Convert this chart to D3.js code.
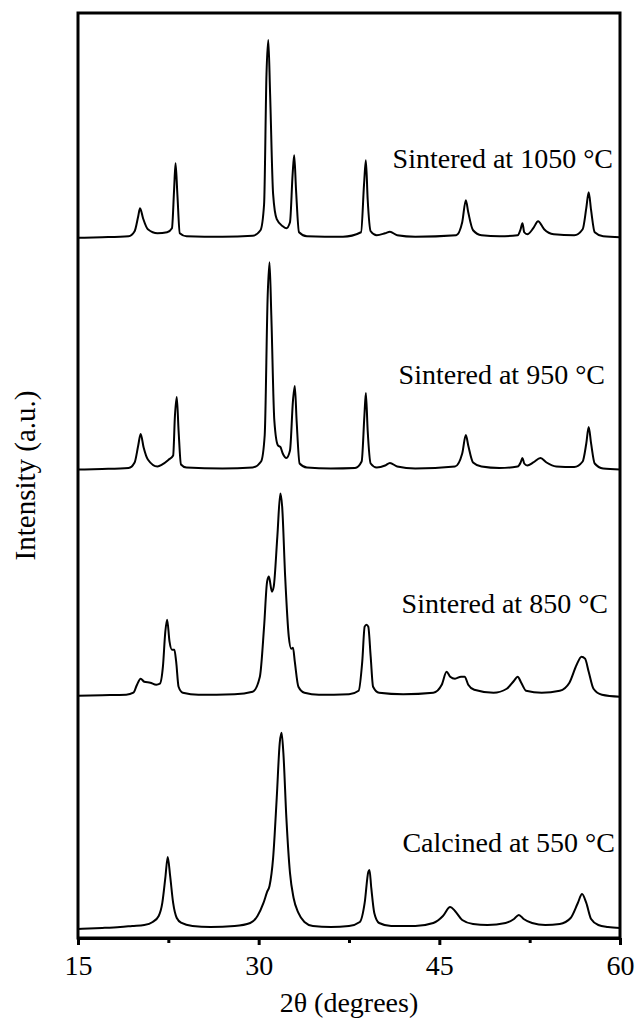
<!DOCTYPE html>
<html>
<head>
<meta charset="utf-8">
<script src="https://cdn.jsdelivr.net/npm/d3@7"></script>
<style>
	body { margin: 0; background: #fff; }
</style>
</head>
<body>
<div id="chart"></div>
<script>
// XRD patterns: [2theta (deg), intensity (a.u., incl. background)]
const samples = ['Sintered at 1050 °C', 'Sintered at 950 °C', 'Sintered at 850 °C', 'Calcined at 550 °C'];

const pattern1050 = [
	[15,6.5],[17,7],[19.2,8],[19.7,13],[20.0,28],[20.15,36],[20.4,26],[20.8,15],[21.6,11],[22.4,12],
	[22.8,16],[22.98,55],[23.1,81],[23.25,50],[23.45,11],[24,8],[27,7.5],[29.5,8.5],[30.15,14],[30.45,40],
	[30.65,170],[30.8,204],[30.95,150],[31.2,50],[31.5,25],[32.0,18],[32.3,16],[32.6,22],[32.82,70],[32.95,89],
	[33.1,55],[33.35,12],[34,8],[37,7.5],[38.5,12],[38.75,60],[38.9,84],[39.05,45],[39.3,13],[39.8,9],
	[40.5,11],[40.9,12.5],[41.5,9],[43,7.5],[46.4,9],[46.9,22],[47.2,44],[47.4,32],[47.8,14],[48.5,9],
	[50,8],[51.5,9],[51.75,15],[51.9,21],[52.05,12],[52.3,10],[52.8,16],[53.2,23],[53.7,15],[54.5,10],
	[56.2,9],[56.9,15],[57.2,36],[57.4,52],[57.6,34],[57.9,12],[58.6,8],[60,7]
];

const pattern950 = [
	[15,6],[17,6.5],[19.2,7.5],[19.7,13],[20.0,30],[20.2,41.5],[20.45,28],[20.8,16],[21.6,9],[22.0,11],
	[22.5,15.5],[22.9,20],[23.05,60],[23.2,78.5],[23.35,45],[23.55,11],[24,8],[27,7],[29.5,8],[30.2,14],
	[30.5,40],[30.75,180],[30.9,213],[31.05,160],[31.3,55],[31.6,30],[31.8,28.5],[32.0,22],[32.3,17.5],[32.6,25],
	[32.85,75],[33.0,89.5],[33.15,55],[33.4,12],[34,8],[36,7],[38,7.5],[38.55,14],[38.78,60],[38.9,82.5],
	[39.05,45],[39.3,12],[39.8,8],[40.5,10],[40.9,12.5],[41.5,9],[43,7],[46.3,9],[46.9,22],[47.2,40.5],
	[47.4,30],[47.8,13],[48.5,9],[50,7.5],[51.5,9],[51.75,13],[51.9,17.5],[52.05,12],[52.3,10],[52.8,13],
	[53.4,17.5],[53.9,13],[54.7,9],[56.2,8.5],[56.9,14],[57.2,32],[57.4,48.5],[57.6,32],[57.9,12],[58.6,7],[60,6]
];

const pattern850 = [
	[15,11],[17,11.5],[19,12],[19.6,14],[19.9,22],[20.2,28],[20.5,25],[21.0,24],[21.5,22],[21.8,23],
	[22.05,40],[22.25,75],[22.4,87],[22.6,65],[22.8,57],[23.0,57],[23.15,45],[23.35,20],[23.7,14],[25,12],
	[28,12.5],[29.5,15],[30.1,30],[30.45,80],[30.7,125],[30.85,130],[31.1,115],[31.25,120],[31.55,170],[31.8,213],
	[31.95,200],[32.2,130],[32.5,70],[32.7,58],[32.85,59],[33.0,45],[33.3,20],[33.8,14],[35,12],[37.5,12.5],
	[38.3,16],[38.6,45],[38.8,80],[38.95,82],[39.1,80],[39.3,50],[39.5,20],[40,14],[42,12.5],[44.5,14],
	[45.2,22],[45.6,35],[45.9,30],[46.3,28],[46.8,30],[47.1,30],[47.4,22],[47.9,17],[49.5,14],[50.6,18],
	[51.2,26],[51.5,30],[51.8,24],[52.2,16],[53.5,14],[55,16],[55.8,24],[56.4,42],[56.8,50],[57.1,48],
	[57.4,35],[57.8,18],[58.5,12],[60,10]
];

const pattern550 = [
	[15,9],[17,10],[18.5,11],[19.5,12],[20.5,13],[21.2,16],[21.7,22],[22.0,35],[22.25,60],[22.45,81],
	[22.65,62],[22.9,35],[23.2,20],[23.6,15],[24.5,12],[26,11],[28,12],[29.3,15],[29.9,22],[30.4,35],
	[30.7,46],[30.9,52],[31.2,80],[31.5,140],[31.75,195],[31.9,205],[32.05,185],[32.3,120],[32.6,65],[32.9,40],
	[33.3,25],[33.8,16],[34.5,12],[36,11],[37.5,12],[38.4,16],[38.8,35],[39.1,66],[39.2,68],[39.35,50],
	[39.6,25],[40.0,15],[41,12],[43,12],[44.5,15],[45.3,22],[45.9,31],[46.3,27],[46.9,18],[47.8,14],
	[49,13],[50.5,15],[51.2,19],[51.6,23],[52.0,19],[52.7,15],[53.8,13],[55,14],[55.9,20],[56.5,35],
	[56.85,44],[57.2,35],[57.6,19],[58.2,13],[59,11],[60,10]
];

const patterns = [pattern1050, pattern950, pattern850, pattern550];

const xTicks = [15, 30, 45, 60];
const xMinorTicks = [22.5, 37.5, 52.5];
const intensityRange = [0, 231];

//Layout
const W = 638, H = 1024;
const margin = {top: 13, right: 18, bottom: 86, left: 78};
const iw = W - margin.left - margin.right;
const ih = H - margin.top - margin.bottom;
const serif = 'Liberation Serif';

const svg = d3.select('#chart').append('svg')
	.attr('width', W)
	.attr('height', H);

const plot = svg.append('g')
	.attr('transform', `translate(${margin.left},${margin.top})`);

//Scales
const x = d3.scaleLinear().domain([15, 60]).range([0, iw]);
const band = d3.scaleBand().domain(samples).range([0, ih]);
const y = d3.scaleLinear().domain(intensityRange).range([band.bandwidth(), 0]);

const line = d3.line()
	.x(d => x(d[0]))
	.y(d => y(d[1]))
	.curve(d3.curveMonotoneX);

//One stacked panel per sample
const panels = plot.selectAll('.panel')
	.data(samples)
	.enter()
	.append('g')
	.attr('class', 'panel')
	.attr('transform', d => `translate(0,${band(d)})`);

panels.append('path')
	.datum((d, i) => patterns[i])
	.attr('d', line)
	.style('fill', 'none')
	.style('stroke', '#000')
	.style('stroke-width', 2)
	.style('stroke-linejoin', 'round');

//label offsets inside each panel
const labelRight = [iw - 7, iw - 15, iw - 12, iw - 5];
const labelBaseline = [155, 140, 137, 145];

panels.append('text')
	.attr('x', (d, i) => labelRight[i])
	.attr('y', (d, i) => labelBaseline[i])
	.attr('text-anchor', 'end')
	.attr('font-family', serif)
	.attr('font-size', 28)
	.text(d => d);

//Frame
plot.append('rect')
	.attr('width', iw)
	.attr('height', ih)
	.style('fill', 'none')
	.style('stroke', '#000')
	.style('stroke-width', 3);

//Bottom axis
const xAxis = plot.append('g')
	.attr('transform', `translate(0,${ih})`)
	.call(d3.axisBottom(x).tickValues(xTicks).tickSize(7).tickSizeOuter(0).tickPadding(10));

xAxis.attr('font-family', serif).attr('font-size', 28);
xAxis.select('.domain').style('stroke-width', 3);
xAxis.selectAll('.tick line').style('stroke-width', 3);

const xMinor = plot.append('g')
	.attr('transform', `translate(0,${ih})`)
	.call(d3.axisBottom(x).tickValues(xMinorTicks).tickSize(5).tickFormat(''));
xMinor.select('.domain').remove();
xMinor.selectAll('.tick line').style('stroke-width', 3);

//Axis titles
svg.append('text')
	.attr('x', margin.left + iw / 2)
	.attr('y', 1012)
	.attr('text-anchor', 'middle')
	.attr('font-family', serif)
	.attr('font-size', 28)
	.text('2θ (degrees)');

svg.append('text')
	.attr('transform', `translate(35,${margin.top + ih / 2}) rotate(-90)`)
	.attr('text-anchor', 'middle')
	.attr('font-family', serif)
	.attr('font-size', 29)
	.text('Intensity (a.u.)');
</script>
</body>
</html>
